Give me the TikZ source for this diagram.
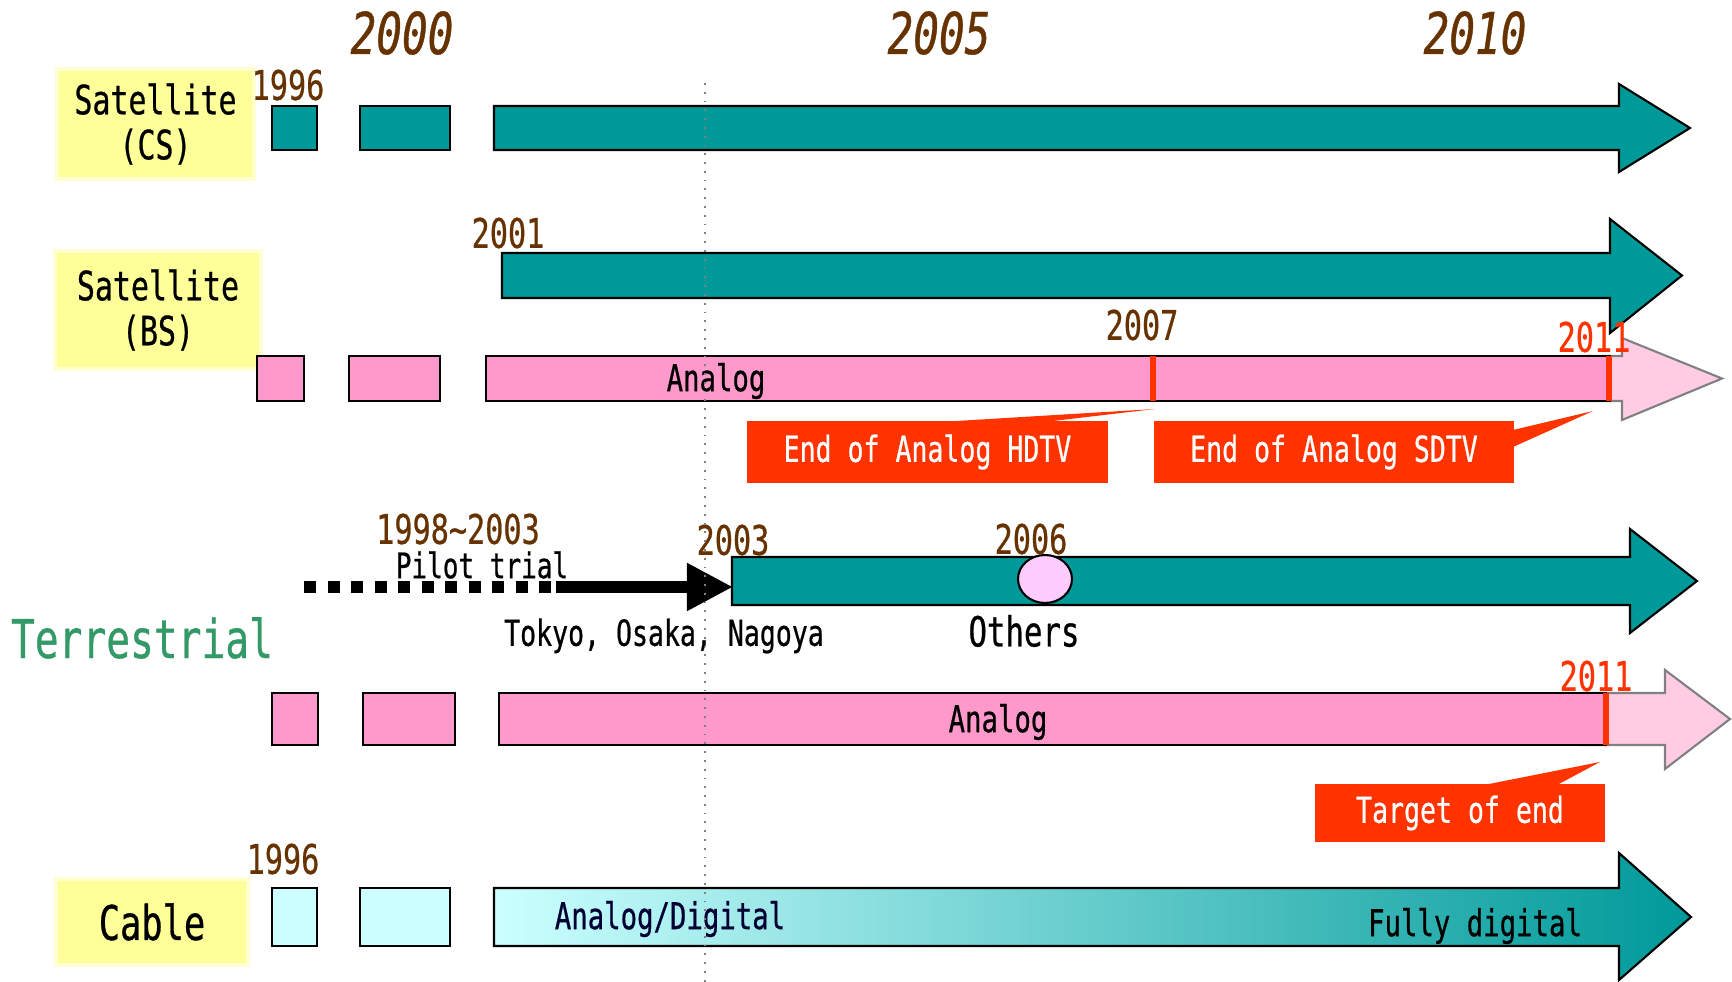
\documentclass[tikz,border=0pt]{standalone}
\usepackage{fontspec}
\setmainfont[FakeStretch=0.74, FakeBold=0.6]{DejaVu Sans Mono}
\usetikzlibrary{arrows.meta}

\definecolor{tealbar}{RGB}{0,153,153}
\definecolor{pinkbar}{RGB}{255,153,204}
\definecolor{palepink}{RGB}{255,204,228}
\definecolor{cyanbar}{RGB}{204,255,255}
\definecolor{boxyellow}{RGB}{255,255,153}
\definecolor{markred}{RGB}{255,51,0}
\definecolor{yearbrown}{RGB}{102,51,0}
\definecolor{terragreen}{RGB}{51,153,102}
\definecolor{navytext}{RGB}{0,0,51}
\definecolor{otherspink}{RGB}{255,204,255}

% block arrow: style, x start, x head, x tip, y top, y bottom, head top, head bottom
\newcommand{\blockarrow}[8]{%
	\draw[#1] (#2, #5) -- (#3, #5) -- (#3, #7) -- (#4, {(#5 + #6) / 2})
		-- (#3, #8) -- (#3, #6) -- (#2, #6) -- cycle;
}

\begin{document}
\begin{tikzpicture}[x=0.01cm, y=-0.01cm,
	bar/.style={draw=black, line width=0.6pt},
	tealbox/.style={bar, fill=tealbar},
	pinkbox/.style={bar, fill=pinkbar},
	cyanbox/.style={bar, fill=cyanbar},
	paleshape/.style={draw=gray, line width=0.6pt, fill=palepink},
	endmark/.style={draw=markred, line width=1.8pt},
	media/.style={fill=boxyellow, draw=boxyellow!45, line width=1.2pt, align=center, inner sep=0pt},
	yearlabel/.style={text=yearbrown, font=\fontsize{11.6}{13}\selectfont, inner sep=0pt},
	redlabel/.style={text=markred, font=\fontsize{11.6}{13}\selectfont, inner sep=0pt},
	toplabel/.style={text=yearbrown, font=\fontsize{16.4}{18}\selectfont\itshape, inner sep=0pt},
	barlabel/.style={font=\fontsize{10.5}{12}\selectfont, inner sep=0pt},
	callout/.style={fill=markred, text=white, font=\fontsize{10.2}{11}\selectfont, inner sep=0pt}]

	\useasboundingbox (0, 0) rectangle (1732, 982);

	% year scale
	\node[toplabel] (y2000) at (402, 33) {2000};
	\node[toplabel] (y2005) at (939, 33) {2005};
	\node[toplabel] (y2010) at (1475, 33) {2010};

	% media boxes
	\node[media, minimum width=1.97cm, minimum height=1.10cm, font=\fontsize{11.5}{12.8}\selectfont] (cs) at (155.5, 124) {Satellite\\(CS)};
	\node[media, minimum width=2.06cm, minimum height=1.18cm, font=\fontsize{11.5}{12.8}\selectfont] (bs) at (158, 310) {Satellite\\(BS)};
	\node[media, minimum width=1.92cm, minimum height=0.86cm, font=\fontsize{13.6}{15}\selectfont] (cable) at (152, 922) {Cable};
	\node[text=terragreen, font=\fontsize{15.2}{17}\selectfont, inner sep=0pt] (terra) at (142, 638) {Terrestrial};

	% draw CS row
	\foreach \xa/\xb in {272/317, 360/450}
	{
		\draw[tealbox] (\xa, 106) rectangle (\xb, 150);
	}
	\blockarrow{tealbox}{494}{1619}{1690}{106}{150}{84}{172}
	\node[yearlabel] (cs1996) at (288, 85) {1996};

	% draw BS rows
	\blockarrow{tealbox}{502}{1610}{1682}{253}{298}{219}{333}
	\node[yearlabel] (bs2001) at (508, 233) {2001};

	\blockarrow{paleshape}{1580}{1622}{1722}{356}{401}{338}{420}
	\foreach \xa/\xb in {257/304, 349/440, 486/1610}
	{
		\draw[pinkbox] (\xa, 356) rectangle (\xb, 401);
	}
	\draw[endmark] (1153, 356) -- (1153, 401);
	\draw[endmark] (1609, 356) -- (1609, 401);
	\node[barlabel] (bsanalog) at (716, 381) {Analog};
	\node[yearlabel] (bs2007) at (1142, 325) {2007};
	\node[redlabel] (bs2011) at (1594, 337) {2011};

	% callouts for BS
	\node[callout, minimum width=3.61cm, minimum height=0.62cm] (hdtv) at (927.5, 452) {End of Analog HDTV};
	\coordinate (hdtv tip) at (1155, 409);
	\fill[markred] (956, 421) -- (hdtv tip) -- (1053, 421) -- cycle;
	\node[callout, minimum width=3.60cm, minimum height=0.62cm] (sdtv) at (1334, 452) {End of Analog SDTV};
	\coordinate (sdtv tip) at (1593, 411);
	\fill[markred] (1513, 430) -- (sdtv tip) -- (1513, 447) -- cycle;

	% draw terrestrial digital row
	\blockarrow{tealbox}{732}{1630}{1697}{557}{605}{529}{633}
	\coordinate (digi start) at (733, 587);
	\coordinate (pilot start) at (304, 587);
	\coordinate (pilot mid) at (556, 587);
	\draw[line width=0.11cm, dash pattern=on 0.12cm off 0.115cm] (pilot start) -- (pilot mid);
	\draw[line width=0.11cm, -{Triangle[length=0.46cm, width=0.45cm]}] (pilot mid) -- (digi start);
	\draw[bar, fill=otherspink] (1045, 579) ellipse [x radius=27, y radius=24];
	\node[yearlabel] (pilotyears) at (458, 529) {1998\textasciitilde2003};
	\node[font=\fontsize{10}{11}\selectfont, inner sep=0pt] (pilot) at (482, 565) {Pilot trial};
	\node[font=\fontsize{10.2}{12}\selectfont, inner sep=0pt] (cities) at (664, 636) {Tokyo, Osaka, Nagoya};
	\node[yearlabel] (t2003) at (733, 540) {2003};
	\node[yearlabel] (t2006) at (1031, 539) {2006};
	\node[font=\fontsize{11.8}{13}\selectfont, inner sep=0pt] (others) at (1024, 631) {Others};

	% draw terrestrial analog row
	\blockarrow{paleshape}{1580}{1665}{1730}{693}{745}{670}{769}
	\foreach \xa/\xb in {272/318, 363/455, 499/1606}
	{
		\draw[pinkbox] (\xa, 693) rectangle (\xb, 745);
	}
	\draw[endmark] (1606, 693) -- (1606, 745);
	\node[barlabel] (tanalog) at (998, 722) {Analog};
	\node[redlabel] (t2011) at (1596, 676) {2011};
	\node[callout, minimum width=2.90cm, minimum height=0.58cm] (target) at (1460, 813) {Target of end};
	\coordinate (target tip) at (1600, 762);
	\fill[markred] (1484, 785) -- (target tip) -- (1557, 785) -- cycle;

	% draw cable row
	\foreach \xa/\xb in {272/317, 360/450}
	{
		\draw[cyanbox] (\xa, 888) rectangle (\xb, 946);
	}
	\blockarrow{bar, left color=cyanbar, right color=tealbar}{494}{1619}{1691}{888}{946}{853}{980}
	\node[yearlabel] (c1996) at (283, 859) {1996};
	\node[barlabel, text=navytext] (mixed) at (670, 919) {Analog/Digital};
	\node[barlabel] (digital) at (1475, 926) {Fully digital};

	% 2003 guide line
	\draw[gray, dotted, line width=0.5pt] (705, 83) -- (705, 982);

\end{tikzpicture}
\end{document}
